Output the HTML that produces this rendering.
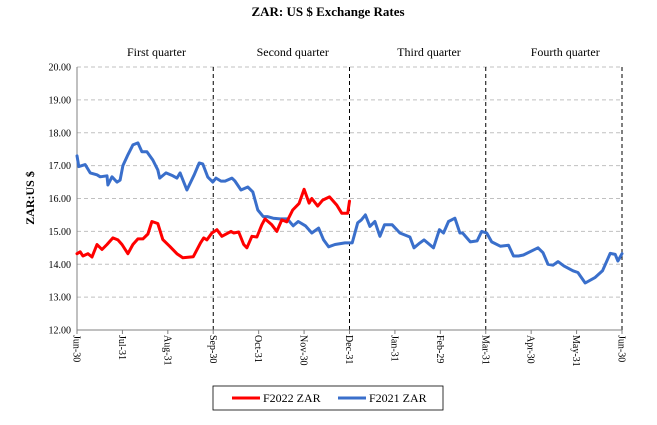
<!DOCTYPE html>
<html><head><meta charset="utf-8"><style>
body{margin:0;background:#fff;}
svg{display:block;font-family:"Liberation Serif",serif;}
</style></head><body>
<svg id="chart" width="657" height="425" viewBox="0 0 657 425">
<text x="328" y="16" text-anchor="middle" font-size="13" font-weight="bold">ZAR: US $ Exchange Rates</text>
<text transform="translate(34,198) rotate(-90)" text-anchor="middle" font-size="12" font-weight="bold">ZAR:US $</text>
<g id="grid"></g><g id="axes"></g><g id="series"></g>
<g>
<rect x="213" y="386" width="230" height="24" fill="#fff" stroke="#000" stroke-width="0.8"/>
<g><line x1="232" y1="398" x2="260" y2="398" stroke="#ff0000" stroke-width="3"/><text x="263" y="402" font-size="12">F2022 ZAR</text></g>
<g><line x1="338" y1="398" x2="366" y2="398" stroke="#3a6fcb" stroke-width="3"/><text x="369" y="402" font-size="12">F2021 ZAR</text></g>
</g>
</svg>
<script>
const monthLabels=["Jun-30","Jul-31","Aug-31","Sep-30","Oct-31","Nov-30","Dec-31","Jan-31","Feb-29","Mar-31","Apr-30","May-31","Jun-30"];
const yTicks=[12,13,14,15,16,17,18,19,20];
const quarterLabels=["First quarter","Second quarter","Third quarter","Fourth quarter"];
const blueT=[0,0.04,0.18,0.29,0.44,0.51,0.66,0.68,0.77,0.88,0.95,1.01,1.12,1.23,1.34,1.43,1.54,1.67,1.78,1.82,1.96,2.11,2.20,2.27,2.42,2.58,2.69,2.77,2.88,2.99,3.06,3.17,3.26,3.41,3.48,3.61,3.76,3.87,3.98,4.10,4.19,4.32,4.47,4.63,4.76,4.87,5.03,5.17,5.32,5.43,5.54,5.68,5.90,6.06,6.18,6.26,6.35,6.45,6.56,6.67,6.77,6.94,7.11,7.33,7.42,7.55,7.64,7.85,7.98,8.07,8.18,8.32,8.43,8.49,8.66,8.81,8.91,9.02,9.13,9.32,9.50,9.61,9.72,9.83,10.15,10.26,10.37,10.48,10.59,10.72,10.92,11.03,11.19,11.41,11.57,11.74,11.85,11.91,12.0];
const blueV=[17.30,16.97,17.03,16.78,16.72,16.66,16.69,16.41,16.66,16.50,16.56,17.00,17.33,17.63,17.69,17.42,17.42,17.17,16.87,16.62,16.78,16.69,16.62,16.78,16.26,16.72,17.08,17.05,16.65,16.50,16.62,16.53,16.53,16.62,16.53,16.26,16.35,16.20,15.65,15.45,15.45,15.40,15.38,15.38,15.17,15.30,15.17,14.95,15.10,14.74,14.53,14.60,14.65,14.65,15.26,15.35,15.50,15.15,15.30,14.85,15.20,15.20,14.95,14.83,14.50,14.65,14.74,14.50,15.05,14.95,15.30,15.40,14.95,14.95,14.68,14.71,15.00,14.95,14.68,14.55,14.58,14.25,14.25,14.28,14.50,14.35,14.00,13.97,14.08,13.95,13.80,13.75,13.43,13.60,13.80,14.33,14.30,14.10,14.32];
const redT=[0,0.07,0.13,0.24,0.33,0.44,0.55,0.66,0.79,0.90,0.99,1.12,1.23,1.34,1.45,1.56,1.65,1.78,1.89,2.04,2.20,2.33,2.56,2.72,2.79,2.86,2.97,3.08,3.19,3.39,3.45,3.56,3.67,3.74,3.85,3.96,4.07,4.14,4.29,4.40,4.51,4.62,4.75,4.89,5.00,5.11,5.17,5.30,5.41,5.56,5.72,5.83,5.96,6.00];
const redV=[14.32,14.38,14.25,14.32,14.22,14.60,14.45,14.60,14.80,14.74,14.60,14.32,14.60,14.77,14.77,14.92,15.30,15.24,14.75,14.55,14.32,14.20,14.23,14.65,14.80,14.74,14.95,15.05,14.85,15.00,14.95,14.98,14.60,14.50,14.85,14.83,15.20,15.38,15.20,15.00,15.35,15.29,15.65,15.85,16.28,15.86,16.00,15.77,15.95,16.05,15.80,15.55,15.55,15.92];
const L=77,R=622,T=67,B=330;
const xs=m=>L+m*(R-L)/12;
const ys=v=>B-(v-12)*(B-T)/8;
const NS="http://www.w3.org/2000/svg";
function mk(tag,parent,attrs){const e=document.createElementNS(NS,tag);for(const k in attrs)e.setAttribute(k,attrs[k]);parent.appendChild(e);return e;}
const grid=document.getElementById('grid'),axes=document.getElementById('axes'),series=document.getElementById('series');
yTicks.forEach(v=>{
 if(v>12){const g=mk('line',grid,{x1:L,x2:R,y1:ys(v),y2:ys(v),stroke:'#c0c0c0','stroke-dasharray':'4,3','stroke-width':1});
 
 }
 const t=mk('text',axes,{x:L-6,y:ys(v)+3.5,'text-anchor':'end','font-size':10});
 t.textContent=v.toFixed(2);
 
 
});
[3,6,9,12].forEach(m=>{const d=mk('line',grid,{x1:xs(m),x2:xs(m),y1:T,y2:B,stroke:'#000','stroke-dasharray':'4,3','stroke-width':1});
 
 });
quarterLabels.forEach((q,i)=>{const t=mk('text',axes,{x:xs(i*3+1.75),y:56,'text-anchor':'middle','font-size':12});
 t.textContent=q;
 
 });
const ax=mk('path',axes,{d:`M${L},${T}V${B}H${R}`,fill:'none',stroke:'#808080','stroke-width':1});


monthLabels.forEach((lab,i)=>{
 mk('line',axes,{x1:xs(i),x2:xs(i),y1:B,y2:B+4,stroke:'#808080'});
 const t=mk('text',axes,{transform:`translate(${xs(i)-3.5},${B+5}) rotate(90)`,'font-size':10});
 t.textContent=lab;
 
 
});
function line(tArr,vArr,color,name){
 const d=tArr.map((t,i)=>(i?'L':'M')+xs(t).toFixed(1)+','+ys(vArr[i]).toFixed(1)).join('');
 const p=mk('path',series,{d:d,fill:'none',stroke:color,'stroke-width':3,'stroke-linejoin':'round','stroke-linecap':'round'});
 
 
}
line(blueT,blueV,'#3a6fcb','f2021-line');
line(redT,redV,'#ff0000','f2022-line');
</script>
</body></html>
